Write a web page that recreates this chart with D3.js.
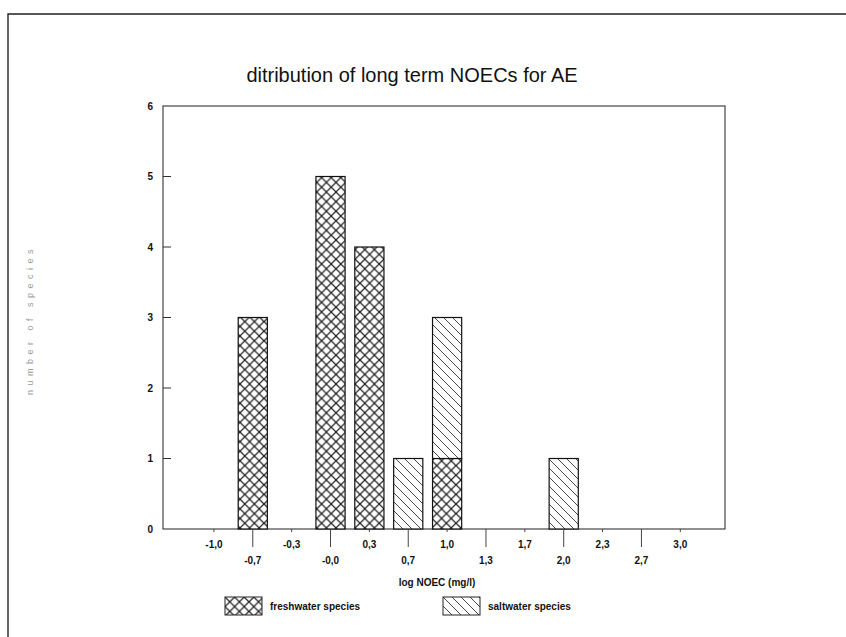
<!DOCTYPE html>
<html>
<head>
<meta charset="utf-8">
<script src="https://cdn.jsdelivr.net/npm/d3@7"></script>
<style>
  body { margin: 0; background: #fff; }
  svg { display: block; }
  .tick-lbl { font-family: "Liberation Sans Narrow", "Liberation Sans", Arial, sans-serif; font-weight: bold; font-size: 10px; fill: #111; }
</style>
</head>
<body>
<div class="svg-content"></div>
<script>
// --- data ---
var binLabels = ["-1,0", "-0,7", "-0,3", "-0,0", "0,3", "0,7", "1,0", "1,3", "1,7", "2,0", "2,3", "2,7", "3,0"];
var freshwater = [0, 3, 0, 5, 4, 0, 1, 0, 0, 0, 0, 0, 0];
var saltwater  = [0, 0, 0, 0, 0, 1, 2, 0, 0, 1, 0, 0, 0];
var yTicks = [0, 1, 2, 3, 4, 5, 6];
var seriesNames = ["freshwater species", "saltwater species"];

var W = 846, H = 637;
var plot = {left: 163, top: 106, right: 725, bottom: 529};

var svg = d3.select(".svg-content").append("svg")
    .attr("width", W)
    .attr("height", H);

// hatch patterns
var defs = svg.append("defs");
var cross = defs.append("pattern")
    .attr("id", "cross")
    .attr("patternUnits", "userSpaceOnUse")
    .attr("width", 9.6).attr("height", 9.6);
cross.append("rect").attr("width", 9.6).attr("height", 9.6).attr("fill", "#fff");
cross.append("path")
    .attr("d", "M0,0L9.6,9.6M9.6,0L0,9.6")
    .attr("stroke", "#222").attr("stroke-width", 1.2);

var diag = defs.append("pattern")
    .attr("id", "diag")
    .attr("patternUnits", "userSpaceOnUse")
    .attr("width", 9).attr("height", 9);
diag.append("rect").attr("width", 9).attr("height", 9).attr("fill", "#fff");
diag.append("path")
    .attr("d", "M0,0L9,9M-4.5,4.5L4.5,13.5M4.5,-4.5L13.5,4.5")
    .attr("stroke", "#333").attr("stroke-width", 0.9);

var fills = ["url(#cross)", "url(#diag)"];

// outer frame
svg.append("path")
    .attr("d", "M8," + H + "L8,14L" + W + ",14")
    .attr("fill", "none")
    .attr("stroke", "#222")
    .attr("stroke-width", 1.4);

// title
svg.append("text")
    .attr("x", 412)
    .attr("y", 82)
    .attr("text-anchor", "middle")
    .attr("font-family", "Liberation Sans, Arial, sans-serif")
    .attr("font-size", 20)
    .attr("fill", "#111")
    .text("ditribution of long term NOECs for AE");

// scales
var x = d3.scaleLinear()
    .domain([-1.31, 13.15])
    .range([plot.left, plot.right]);
var y = d3.scaleLinear()
    .domain([0, 6])
    .range([plot.bottom, plot.top]);
var step = x(1) - x(0);
var barW = step * 0.75;

// plot frame
svg.append("rect")
    .attr("x", plot.left)
    .attr("y", plot.top)
    .attr("width", plot.right - plot.left)
    .attr("height", plot.bottom - plot.top)
    .attr("fill", "none")
    .attr("stroke", "#333")
    .attr("stroke-width", 1.1);

// bars (stacked)
var table = binLabels.map(function(l, i) {
    return {idx: i, fresh: freshwater[i], salt: saltwater[i]};
});
var stacked = d3.stack().keys(["fresh", "salt"])(table);

var layers = svg.selectAll(".layer")
    .data(stacked)
    .enter()
    .append("g")
    .attr("class", "layer")
    .attr("fill", function(d, i) { return fills[i]; });

layers.selectAll("rect")
    .data(function(d) { return d.filter(function(p) { return p[1] - p[0] > 0; }); })
    .enter()
    .append("rect")
    .attr("x", function(d) { return x(d.data.idx) - barW / 2; })
    .attr("y", function(d) { return y(d[1]); })
    .attr("width", barW)
    .attr("height", function(d) { return y(d[0]) - y(d[1]); })
    .attr("stroke", "#111")
    .attr("stroke-width", 1.2);

// y axis: inward ticks, bold labels
var yAxis = svg.append("g");
yAxis.selectAll("line")
    .data(yTicks.filter(function(t) { return t > 0 && t < 6; }))
    .enter()
    .append("line")
    .attr("x1", plot.left).attr("x2", plot.left + 8)
    .attr("y1", function(d) { return y(d); })
    .attr("y2", function(d) { return y(d); })
    .attr("stroke", "#333");
yAxis.selectAll("text")
    .data(yTicks)
    .enter()
    .append("text")
    .attr("class", "tick-lbl")
    .attr("x", 153)
    .attr("y", function(d) { return y(d); })
    .attr("dy", "0.35em")
    .attr("text-anchor", "end")
    .text(function(d) { return d; });

// x axis: alternating rows of class labels
var xAxis = svg.append("g");
xAxis.selectAll("line")
    .data(binLabels)
    .enter()
    .append("line")
    .attr("x1", function(d, i) { return x(i); })
    .attr("x2", function(d, i) { return x(i); })
    .attr("y1", plot.bottom)
    .attr("y2", function(d, i) { return i % 2 ? plot.bottom + 18 : plot.bottom + 3; })
    .attr("stroke", "#444");
xAxis.selectAll("text")
    .data(binLabels)
    .enter()
    .append("text")
    .attr("class", "tick-lbl")
    .attr("x", function(d, i) { return x(i); })
    .attr("y", function(d, i) { return i % 2 ? 564 : 548; })
    .attr("text-anchor", "middle")
    .text(function(d) { return d; });

// x axis title
svg.append("text")
    .attr("class", "tick-lbl")
    .attr("x", 437)
    .attr("y", 586)
    .attr("text-anchor", "middle")
    .text("log NOEC (mg/l)");

// faint y axis title (printed as dots in the original)
svg.append("text")
    .attr("transform", "translate(33,320) rotate(-90)")
    .attr("text-anchor", "middle")
    .attr("font-family", "Liberation Sans, Arial, sans-serif")
    .attr("font-size", 9)
    .attr("letter-spacing", 4.5)
    .attr("fill", "#999")
    .text("number of species");

// legend
var legendX = [225, 443];
var legend = svg.selectAll(".legend")
    .data(seriesNames)
    .enter()
    .append("g")
    .attr("class", "legend")
    .attr("transform", function(d, i) { return "translate(" + legendX[i] + ",597)"; });
legend.append("rect")
    .attr("width", 37)
    .attr("height", 18)
    .attr("fill", function(d, i) { return fills[i]; })
    .attr("stroke", "#222")
    .attr("stroke-width", 1);
legend.append("text")
    .attr("class", "tick-lbl")
    .attr("x", 45)
    .attr("y", 9)
    .attr("dy", "0.35em")
    .text(function(d) { return d; });
</script>
</body>
</html>
